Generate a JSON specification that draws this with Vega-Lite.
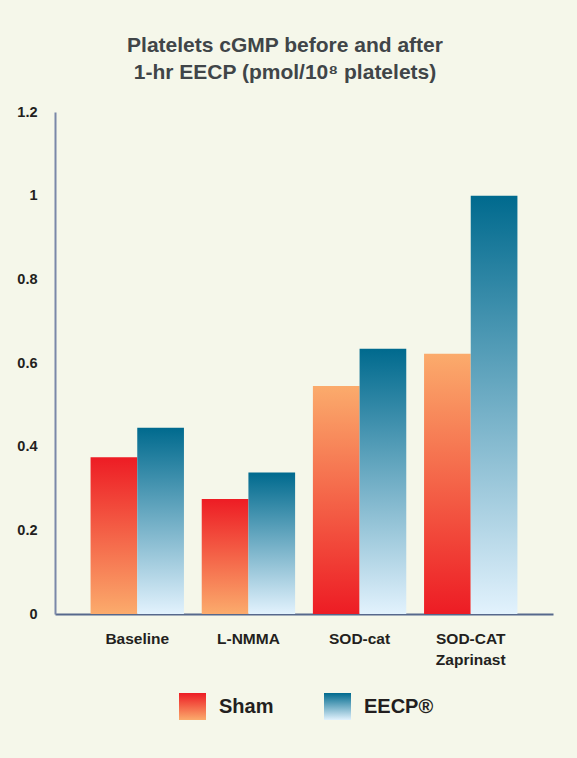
{
  "$schema": "https://vega.github.io/schema/vega-lite/v6.json",
  "width": 498,
  "height": 502,
  "autosize": {"type": "none"},
  "padding": {"left": 55, "top": 112, "right": 24, "bottom": 144},
  "background": "#f5f7ea",
  "title": {
    "text": ["Platelets cGMP before and after", "1-hr EECP (pmol/10⁸ platelets)"],
    "font": "Liberation Sans",
    "fontSize": 21,
    "fontWeight": "bold",
    "color": "#404548",
    "lineHeight": 27,
    "anchor": "middle",
    "dx": -19,
    "offset": 21
  },
  "config": {
    "view": {"stroke": null},
    "font": "Liberation Sans",
    "legend": {
      "orient": "none",
      "direction": "horizontal",
      "padding": 0,
      "symbolSize": 729,
      "symbolStrokeWidth": 0,
      "symbolOpacity": 1,
      "labelFont": "Liberation Sans",
      "labelFontSize": 20,
      "labelFontWeight": "bold",
      "labelColor": "#231f20",
      "labelOffset": 13
    }
  },
  "data": {
    "values": [
      {"group": "Baseline", "series": "Sham", "value": 0.375},
      {"group": "Baseline", "series": "EECP", "value": 0.445},
      {"group": "L-NMMA", "series": "Sham", "value": 0.275},
      {"group": "L-NMMA", "series": "EECP", "value": 0.338},
      {"group": "SOD-cat", "series": "Sham", "value": 0.545},
      {"group": "SOD-cat", "series": "EECP", "value": 0.634},
      {"group": "SOD-CAT Zaprinast", "series": "Sham", "value": 0.622},
      {"group": "SOD-CAT Zaprinast", "series": "EECP", "value": 1.0}
    ]
  },
  "encoding": {
    "x": {
      "field": "group",
      "type": "nominal",
      "sort": null,
      "scale": {"paddingInner": 0.16, "paddingOuter": 0.32},
      "axis": {
        "title": null,
        "labelAngle": 0,
        "ticks": false,
        "labelPadding": 17,
        "labelFont": "Liberation Sans",
        "labelFontSize": 15.5,
        "labelFontWeight": "bold",
        "labelColor": "#231f20",
        "labelLineHeight": 21,
        "labelExpr": "datum.label == 'SOD-CAT Zaprinast' ? ['SOD-CAT', 'Zaprinast'] : datum.label",
        "domainColor": "#56688c",
        "domainWidth": 2
      }
    },
    "xOffset": {
      "field": "series",
      "type": "nominal",
      "scale": {"domain": ["Sham", "EECP"], "paddingInner": 0, "paddingOuter": 0}
    },
    "y": {
      "field": "value",
      "type": "quantitative",
      "scale": {"domain": [0, 1.2], "nice": false},
      "axis": {
        "title": null,
        "values": [0, 0.2, 0.4, 0.6, 0.8, 1, 1.2],
        "format": "~g",
        "grid": false,
        "ticks": false,
        "labelPadding": 18,
        "labelFont": "Liberation Sans",
        "labelFontSize": 14.5,
        "labelFontWeight": "bold",
        "labelColor": "#231f20",
        "domainColor": "#7a88a8",
        "domainWidth": 2
      }
    }
  },
  "layer": [
    {
      "transform": [{"filter": "datum.series == 'Sham' && (datum.group == 'Baseline' || datum.group == 'L-NMMA')"}],
      "mark": {
        "type": "bar",
        "color": {
          "gradient": "linear", "x1": 0, "y1": 0, "x2": 0, "y2": 1,
          "stops": [{"offset": 0, "color": "#ed1c24"}, {"offset": 1, "color": "#fbab6c"}]
        }
      }
    },
    {
      "transform": [{"filter": "datum.series == 'Sham' && (datum.group == 'SOD-cat' || datum.group == 'SOD-CAT Zaprinast')"}],
      "mark": {
        "type": "bar",
        "color": {
          "gradient": "linear", "x1": 0, "y1": 0, "x2": 0, "y2": 1,
          "stops": [{"offset": 0, "color": "#fbab6c"}, {"offset": 1, "color": "#ed1c24"}]
        }
      }
    },
    {
      "transform": [{"filter": "datum.series == 'EECP'"}],
      "mark": {
        "type": "bar",
        "color": {
          "gradient": "linear", "x1": 0, "y1": 0, "x2": 0, "y2": 1,
          "stops": [{"offset": 0, "color": "#006a8e"}, {"offset": 1, "color": "#e2f2fd"}]
        }
      }
    },
    {
      "transform": [{"filter": "datum.series == 'Sham'"}],
      "mark": {
        "type": "point", "opacity": 0, "filled": true,
        "color": {
          "gradient": "linear", "x1": 0, "y1": 0, "x2": 0, "y2": 1,
          "stops": [{"offset": 0, "color": "#ed1c24"}, {"offset": 1, "color": "#fbab6c"}]
        }
      },
      "encoding": {
        "y": {"datum": 0},
        "shape": {
          "field": "series",
          "type": "nominal",
          "scale": {"range": ["square"]},
          "legend": {"title": null, "legendX": 124, "legendY": 581}
        }
      }
    },
    {
      "transform": [{"filter": "datum.series == 'EECP'"}],
      "mark": {
        "type": "point", "opacity": 0, "filled": true,
        "color": {
          "gradient": "linear", "x1": 0, "y1": 0, "x2": 0, "y2": 1,
          "stops": [{"offset": 0, "color": "#006a8e"}, {"offset": 1, "color": "#e2f2fd"}]
        }
      },
      "encoding": {
        "y": {"datum": 0},
        "shape": {
          "field": "series",
          "type": "nominal",
          "scale": {"range": ["square"]},
          "legend": {
            "title": null,
            "legendX": 269,
            "legendY": 581,
            "labelExpr": "datum.label == 'EECP' ? 'EECP®' : datum.label"
          }
        }
      }
    }
  ],
  "resolve": {
    "scale": {"shape": "independent"},
    "legend": {"shape": "independent"}
  }
}
